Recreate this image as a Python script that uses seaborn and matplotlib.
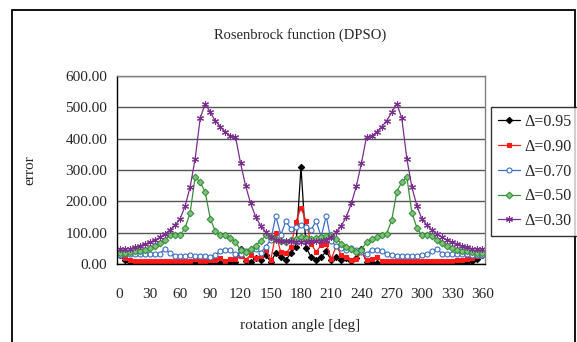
import matplotlib
matplotlib.use("Agg")
import matplotlib.pyplot as plt
from matplotlib.patches import Rectangle
from matplotlib.ticker import FixedLocator, FormatStrFormatter
import seaborn as sns
import numpy as np

# rotation angles 0..360 every 5 degrees
angles = list(range(0, 361, 5))

err_095 = [28, 13, 6, 4, 3, 3, 3, 3, 3, 3, 3, 3, 3, 3, 3, 3, 3, 5, 3, 3,
           3, 5, 3, 5, 47, 10, 7, 18, 13, 28, 7, 35, 22, 13, 35, 55, 310, 52, 23, 12,
           22, 40, 12, 22, 13, 18, 8, 20, 47, 5, 3, 3, 3, 3, 3, 3, 3, 3, 3, 3,
           3, 3, 3, 3, 3, 3, 3, 3, 4, 5, 8, 15, 28]
err_090 = [30, 19, 14, 11, 10, 10, 10, 10, 10, 10, 10, 10, 10, 10, 10, 15, 10, 10, 12, 13,
           18, 11, 16, 15, 24, 13, 29, 20, 26, 45, 12, 98, 37, 34, 55, 135, 180, 137, 65, 38,
           61, 65, 16, 57, 29, 22, 14, 16, 38, 13, 16, 22, 11, 10, 10, 10, 10, 10, 10, 10,
           10, 10, 10, 10, 10, 11, 11, 12, 13, 15, 18, 24, 30]
err_070 = [30, 31, 31, 31, 31, 31, 32, 32, 33, 48, 35, 27, 25, 27, 28, 27, 26, 24, 22, 29,
           42, 45, 45, 31, 33, 40, 44, 48, 36, 55, 77, 153, 93, 137, 111, 119, 123, 119, 109, 137,
           87, 153, 72, 58, 50, 45, 50, 45, 38, 32, 46, 46, 40, 32, 28, 27, 27, 26, 25, 27,
           28, 33, 40, 48, 32, 33, 32, 32, 31, 31, 30, 30, 30]
err_050 = [34, 36, 37, 40, 42, 45, 50, 56, 66, 77, 91, 91, 91, 115, 163, 277, 262, 229, 145, 104,
           92, 91, 83, 70, 45, 38, 48, 59, 73, 91, 86, 81, 72, 70, 78, 81, 86, 84, 80, 82,
           86, 88, 94, 81, 65, 54, 48, 38, 45, 70, 81, 86, 91, 97, 140, 230, 262, 277, 163, 115,
           91, 91, 89, 77, 66, 56, 50, 45, 42, 40, 37, 36, 35]
err_030 = [47, 48, 49, 53, 58, 63, 69, 76, 85, 96, 108, 124, 143, 185, 245, 335, 465, 512, 484, 457,
           438, 421, 408, 406, 323, 250, 194, 151, 122, 102, 86, 78, 73, 73, 72, 71, 71, 71, 72, 73,
           73, 78, 86, 102, 122, 151, 194, 250, 323, 406, 408, 421, 438, 457, 484, 512, 465, 335, 245, 185,
           143, 124, 108, 96, 85, 76, 69, 63, 58, 53, 49, 48, 47]

labels = ["Δ=0.95", "Δ=0.90", "Δ=0.70", "Δ=0.50", "Δ=0.30"]
x_labels = [str(a) for a in range(0, 361, 30)]

sns.set_style("white")
plt.rcParams["font.family"] = ["Liberation Serif", "DejaVu Serif"]

fig = plt.figure(figsize=(5.77, 3.42), dpi=100)
ax = fig.add_axes([117 / 577, 1 - 264 / 342, 368 / 577, 188 / 342])

series = [
    (err_095, "#000000", "D", "#000000", 3.2),
    (err_090, "#ff1a1a", "s", "#ff1a1a", 3.4),
    (err_070, "#3a6fc4", "o", "white", 3.6),
    (err_050, "#3a8f3a", "D", "#7cc47c", 3.4),
    (err_030, "#7a2e8e", (6, 2, 0), "#7a2e8e", 5.0),
]
for (vals, col, mk, mfc, ms), lab in zip(series, labels):
    sns.lineplot(x=angles, y=vals, ax=ax, color=col, lw=0.9, marker=mk,
                 markersize=ms, markerfacecolor=mfc, markeredgecolor=col,
                 markeredgewidth=0.8, label=lab, legend=False)

ax.set_xlim(-2.5, 362.5)
ax.set_ylim(0, 600)
ax.set_yticks(range(0, 601, 100))
ax.yaxis.set_major_formatter(FormatStrFormatter("%.2f"))
ax.set_xticks(range(0, 361, 30))
ax.set_xticklabels(x_labels)
ax.xaxis.set_minor_locator(FixedLocator(np.arange(-2.5, 363, 15)))
ax.tick_params(axis="x", which="major", length=0, pad=17, labelsize=11)
ax.tick_params(axis="x", which="minor", length=4, width=0.9, direction="out", color="black")
ax.tick_params(axis="y", length=4, width=0.9, direction="out", color="black", pad=3, labelsize=11)

ax.yaxis.grid(True, color="#555555", lw=1.0)
ax.set_axisbelow(True)
for s in ["left", "bottom"]:
    ax.spines[s].set_color("black")
    ax.spines[s].set_linewidth(1.0)
for s in ["top", "right"]:
    ax.spines[s].set_color("#808080")
    ax.spines[s].set_linewidth(1.0)

ax.set_xlabel("")
ax.set_ylabel("")
fig.text(0.52, 1 - 35 / 342, "Rosenbrock function (DPSO)", ha="center", va="center", fontsize=10.5)
fig.text(30 / 577, 1 - 170 / 342, "error", rotation=90, ha="center", va="center", fontsize=11)
fig.text(0.52, 1 - 326 / 342, "rotation angle [deg]", ha="center", va="center", fontsize=11)

handles = ax.get_lines()[:5]
leg = fig.legend(handles, labels, loc="center left", bbox_to_anchor=(491 / 577, 1 - 171.5 / 342),
                 fontsize=11.5, frameon=True, fancybox=False, edgecolor="black",
                 handlelength=1.35, handletextpad=0.3, borderpad=0.45, labelspacing=0.55,
                 borderaxespad=0)
leg.get_frame().set_linewidth(1.0)

# outer chart border
fig.patches.append(Rectangle((12 / 577, -0.1), 563 / 577, 1.1 - 10 / 342,
                             transform=fig.transFigure, fill=False, edgecolor="black", lw=1.3))

fig.savefig("out.png", dpi=100)
